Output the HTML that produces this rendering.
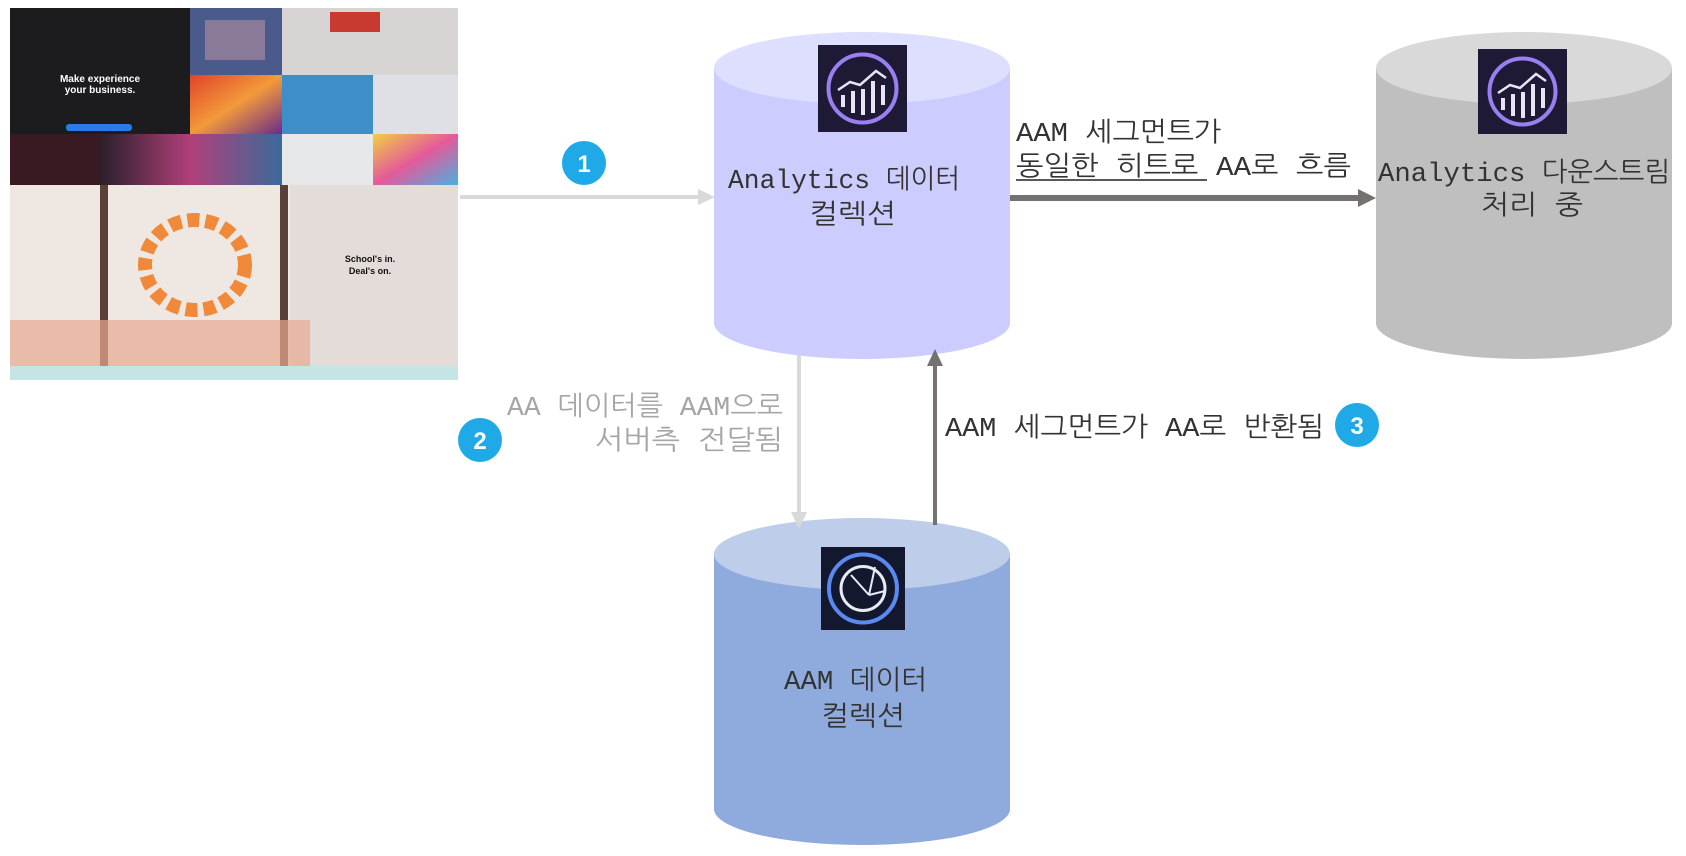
<!DOCTYPE html>
<html><head><meta charset="utf-8"><style>
html,body{margin:0;padding:0;background:#fff;}
svg{display:block;}
text{font-family:"Liberation Mono","NanumGothic","Noto Sans CJK KR",monospace;font-size:27px;}
</style></head><body>
<svg width="1686" height="856" viewBox="0 0 1686 856" xmlns="http://www.w3.org/2000/svg">
<defs>
<linearGradient id="g1" x1="0" y1="0" x2="1" y2="1"><stop offset="0" stop-color="#e0442a"/><stop offset="0.5" stop-color="#f39a3a"/><stop offset="1" stop-color="#6a2a8a"/></linearGradient>
<linearGradient id="g2" x1="0" y1="0" x2="1" y2="0"><stop offset="0" stop-color="#2a1f2a"/><stop offset="0.5" stop-color="#b0407a"/><stop offset="1" stop-color="#3a6a9a"/></linearGradient>
<linearGradient id="g3" x1="0" y1="0" x2="1" y2="1"><stop offset="0" stop-color="#f2d040"/><stop offset="0.5" stop-color="#e45a9a"/><stop offset="1" stop-color="#4ab0e0"/></linearGradient>
</defs>

<!-- collage -->
<rect x="10" y="8" width="180" height="126" fill="#1c1c1e"/>
<rect x="190" y="8" width="92" height="67" fill="#4a5a8a"/>
<rect x="205" y="20" width="60" height="40" fill="#8a7a9a"/>
<rect x="282" y="8" width="176" height="67" fill="#d8d4d4"/>
<rect x="330" y="12" width="50" height="20" fill="#c83a30"/>
<rect x="190" y="75" width="92" height="59" fill="url(#g1)"/>
<rect x="282" y="75" width="91" height="59" fill="#3e8fc8"/>
<rect x="373" y="75" width="85" height="59" fill="#dfe0e6"/>
<rect x="10" y="134" width="90" height="51" fill="#3a1a22"/>
<rect x="100" y="134" width="182" height="51" fill="url(#g2)"/>
<rect x="282" y="134" width="91" height="51" fill="#e6e8ea"/>
<rect x="373" y="134" width="85" height="51" fill="url(#g3)"/>
<text x="100" y="82" text-anchor="middle" fill="#fff" style="font-family:'Liberation Sans',sans-serif;font-size:10px;font-weight:bold">Make experience</text>
<text x="100" y="93" text-anchor="middle" fill="#fff" style="font-family:'Liberation Sans',sans-serif;font-size:10px;font-weight:bold">your business.</text>
<rect x="66" y="124" width="66" height="7" rx="3" fill="#2a7ae8"/>
<rect x="10" y="185" width="448" height="181" fill="#e4dcd8"/>
<rect x="10" y="185" width="280" height="181" fill="#efe8e2"/>
<rect x="100" y="185" width="8" height="181" fill="#5a4038"/>
<rect x="280" y="185" width="8" height="181" fill="#5a4038"/>
<rect x="10" y="320" width="300" height="46" fill="#e8a890" opacity="0.7"/>
<ellipse cx="195" cy="265" rx="50" ry="45" fill="none" stroke="#f08a3a" stroke-width="14" stroke-dasharray="12 6"/>
<text x="370" y="262" text-anchor="middle" fill="#111" style="font-family:'Liberation Sans',sans-serif;font-size:9px;font-weight:bold">School's in.</text>
<text x="370" y="274" text-anchor="middle" fill="#111" style="font-family:'Liberation Sans',sans-serif;font-size:9px;font-weight:bold">Deal's on.</text>
<rect x="10" y="366" width="448" height="14" fill="#c4e4e6"/>

<!-- cylinder 1 -->
<path d="M714,68 L714,323 A148,36 0 0 0 1010,323 L1010,68 Z" fill="#ccccff"/>
<ellipse cx="862" cy="68" rx="148" ry="36" fill="#dedeff"/>
<!-- cylinder gray -->
<path d="M1376,68 L1376,323 A148,36 0 0 0 1672,323 L1672,68 Z" fill="#bfbfbf"/>
<ellipse cx="1524" cy="68" rx="148" ry="36" fill="#d9d9d9"/>
<!-- cylinder AAM -->
<path d="M714,554 L714,809 A148,36 0 0 0 1010,809 L1010,554 Z" fill="#8faadc"/>
<ellipse cx="862" cy="554" rx="148" ry="36" fill="#bdcdea"/>

<!-- arrows -->
<line x1="460" y1="197" x2="702" y2="197" stroke="#d9d9d9" stroke-width="4"/>
<path d="M698,189 L715,197 L698,205 Z" fill="#d9d9d9"/>
<line x1="1010" y1="198" x2="1362" y2="198" stroke="#767171" stroke-width="6"/>
<path d="M1358,189 L1376,198 L1358,207 Z" fill="#767171"/>
<line x1="799" y1="355" x2="799" y2="516" stroke="#d9d9d9" stroke-width="4"/>
<path d="M791,512 L799,529 L807,512 Z" fill="#d9d9d9"/>
<line x1="935" y1="525" x2="935" y2="362" stroke="#767171" stroke-width="4"/>
<path d="M927,366 L935,349 L943,366 Z" fill="#767171"/>

<!-- icons -->
<g transform="translate(818,45)">
<rect width="89" height="87" fill="#1e1a35"/>
<circle cx="44.5" cy="43.5" r="34" fill="none" stroke="#9a7ff0" stroke-width="4"/>
<path d="M20,45 L32,37 L42,40 L58,26 L68,33" fill="none" stroke="#e8e4f4" stroke-width="2.5"/>
<g fill="#e8e4f4"><rect x="23" y="50" width="4" height="12"/><rect x="33" y="46" width="4" height="22"/><rect x="43" y="44" width="4" height="26"/><rect x="53" y="36" width="4" height="32"/><rect x="63" y="40" width="4" height="20"/></g>
</g>
<g transform="translate(1478,49)">
<rect width="89" height="85" fill="#1e1a35"/>
<circle cx="44.5" cy="42.5" r="33" fill="none" stroke="#9a7ff0" stroke-width="4"/>
<path d="M20,44 L32,36 L42,39 L58,25 L68,32" fill="none" stroke="#e8e4f4" stroke-width="2.5"/>
<g fill="#e8e4f4"><rect x="23" y="49" width="4" height="12"/><rect x="33" y="45" width="4" height="22"/><rect x="43" y="43" width="4" height="26"/><rect x="53" y="35" width="4" height="32"/><rect x="63" y="39" width="4" height="20"/></g>
</g>
<g transform="translate(821,547)">
<rect width="84" height="83" fill="#14182e"/>
<circle cx="42" cy="41.5" r="34" fill="none" stroke="#5a8af0" stroke-width="4"/>
<circle cx="42" cy="41.5" r="22" fill="none" stroke="#e8eaf4" stroke-width="3"/>
<path d="M30,28 L48,48 M48,48 L64,44 M48,48 L54,20" stroke="#e8eaf4" stroke-width="2" fill="none"/>
</g>

<!-- numbered circles -->
<circle cx="584" cy="163" r="22" fill="#1fa9e6"/>
<text x="584" y="172" text-anchor="middle" fill="#fff" style="font-family:'Liberation Sans',sans-serif;font-size:24px;font-weight:bold">1</text>
<circle cx="480" cy="440" r="22" fill="#1fa9e6"/>
<text x="480" y="449" text-anchor="middle" fill="#fff" style="font-family:'Liberation Sans',sans-serif;font-size:24px;font-weight:bold">2</text>
<circle cx="1357" cy="425" r="22" fill="#1fa9e6"/>
<text x="1357" y="434" text-anchor="middle" fill="#fff" style="font-family:'Liberation Sans',sans-serif;font-size:24px;font-weight:bold">3</text>

<!-- labels -->
<g fill="#333">
<text x="728" y="188" textLength="232" lengthAdjust="spacingAndGlyphs">Analytics 데이터</text>
<text x="809" y="223" textLength="87" lengthAdjust="spacingAndGlyphs">컬렉션</text>
<text x="1016" y="141" textLength="205" lengthAdjust="spacingAndGlyphs">AAM 세그먼트가</text>
<text x="1016" y="175" textLength="335" lengthAdjust="spacingAndGlyphs">동일한 히트로 AA로 흐름</text>
<text x="1378" y="181" textLength="292" lengthAdjust="spacingAndGlyphs">Analytics 다운스트림</text>
<text x="1481" y="214" textLength="102" lengthAdjust="spacingAndGlyphs">처리 중</text>
<text x="945" y="436" textLength="379" lengthAdjust="spacingAndGlyphs">AAM 세그먼트가 AA로 반환됨</text>
<text x="784" y="689" textLength="143" lengthAdjust="spacingAndGlyphs">AAM 데이터</text>
<text x="821" y="725" textLength="84" lengthAdjust="spacingAndGlyphs">컬렉션</text>
</g>
<line x1="1016" y1="180" x2="1207" y2="180" stroke="#222" stroke-width="1.5"/>
<g fill="#a6a6a6">
<text x="507" y="415" textLength="276" lengthAdjust="spacingAndGlyphs">AA 데이터를 AAM으로</text>
<text x="595" y="449" textLength="188" lengthAdjust="spacingAndGlyphs">서버측 전달됨</text>
</g>
</svg>
</body></html>
